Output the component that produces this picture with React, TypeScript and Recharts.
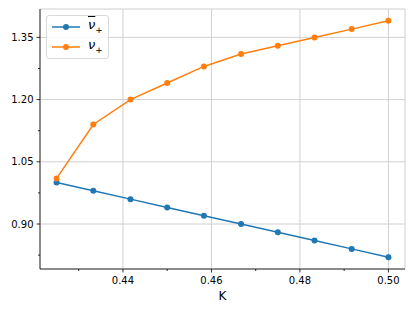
import React from "react";
import {
  LineChart,
  Line,
  XAxis,
  YAxis,
  CartesianGrid,
  Legend,
} from "recharts";

const kValues = [0.425, 0.4333, 0.4417, 0.45, 0.4583, 0.4667, 0.475, 0.4833, 0.4917, 0.5];
const nuBar = [1.0, 0.98, 0.96, 0.94, 0.92, 0.9, 0.88, 0.86, 0.84, 0.82];
const nu = [1.01, 1.14, 1.2, 1.24, 1.28, 1.31, 1.33, 1.35, 1.37, 1.39];

const xMajor = [0.44, 0.46, 0.48, 0.5];
const xMinor = [0.43, 0.45, 0.47, 0.49];
const yMajor = [0.9, 1.05, 1.2, 1.35];
const yMinor = [0.825, 0.975, 1.125, 1.275];

const xDomain = [0.42125, 0.50375];
const yDomain = [0.7915, 1.4185];

const BLUE = "#1f77b4";
const ORANGE = "#ff7f0e";
const FONT = "DejaVu Sans";

const data = kValues.map((k, i) => ({ k, nuBar: nuBar[i], nu: nu[i] }));

const isMajor = (list: number[], v: number) => list.some((m) => Math.abs(m - v) < 1e-9);

const XTick = (props: any) => {
  const { x, y, payload } = props;
  const major = isMajor(xMajor, payload.value);
  return (
    <g>
      <line x1={x} x2={x} y1={y} y2={y + (major ? 3.5 : 2)} stroke="#000" strokeWidth={0.8} />
      {major && (
        <text x={x} y={y + 14.5} textAnchor="middle" fontSize={10} fill="#000" fontFamily={FONT}>
          {payload.value.toFixed(2)}
        </text>
      )}
    </g>
  );
};

const YTick = (props: any) => {
  const { x, y, payload } = props;
  const major = isMajor(yMajor, payload.value);
  return (
    <g>
      <line x1={x - (major ? 3.5 : 2)} x2={x} y1={y} y2={y} stroke="#000" strokeWidth={0.8} />
      {major && (
        <text x={x - 6.5} y={y + 3.6} textAnchor="end" fontSize={10} fill="#000" fontFamily={FONT}>
          {payload.value.toFixed(2)}
        </text>
      )}
    </g>
  );
};

const LegendRow = ({ color, bar }: { color: string; bar: boolean }) => (
  <div style={{ display: "flex", alignItems: "center", height: 20 }}>
    <svg width={36} height={20} style={{ display: "block" }}>
      <line x1={5} x2={33} y1={10} y2={10} stroke={color} strokeWidth={1.5} />
      <circle cx={19} cy={10} r={3} fill={color} />
    </svg>
    <span style={{ marginLeft: 5, fontSize: 13, fontStyle: "italic", fontFamily: FONT, lineHeight: "20px" }}>
      <span style={{ textDecoration: bar ? "overline" : "none" }}>ν</span>
      <sub style={{ fontSize: 9, fontStyle: "normal" }}>+</sub>
    </span>
  </div>
);

const LegendBox = () => (
  <div
    style={{
      boxSizing: "border-box",
      width: 63,
      height: 44,
      paddingTop: 1,
      border: "1px solid #d9d9d9",
      borderRadius: 3,
      background: "rgba(255,255,255,0.8)",
    }}
  >
    <LegendRow color={BLUE} bar={true} />
    <LegendRow color={ORANGE} bar={false} />
  </div>
);

export default function App() {
  return (
    <div style={{ position: "absolute", left: 0, top: 0, background: "#fff" }}>
      <LineChart
        width={415}
        height={311}
        data={data}
        margin={{ top: 9, right: 10, left: 0, bottom: 0 }}
        style={{ fontFamily: FONT }}
      >
        <XAxis
          xAxisId="main"
          dataKey="k"
          type="number"
          domain={xDomain}
          ticks={[...xMajor, ...xMinor]}
          allowDataOverflow
          interval={0}
          height={42}
          tickSize={0}
          tickMargin={0}
          tickLine={false}
          tick={<XTick />}
          axisLine={{ stroke: "#000", strokeWidth: 0.8 }}
          label={{ value: "K", position: "insideBottom", offset: 11, fontSize: 12, fill: "#000" }}
        />
        <YAxis
          yAxisId="main"
          type="number"
          domain={yDomain}
          ticks={[...yMajor, ...yMinor]}
          allowDataOverflow
          interval={0}
          width={40}
          tickSize={0}
          tickMargin={0}
          tickLine={false}
          tick={<YTick />}
          axisLine={{ stroke: "#000", strokeWidth: 0.8 }}
        />
        <XAxis
          xAxisId="grid"
          dataKey="k"
          type="number"
          domain={xDomain}
          ticks={xMajor}
          allowDataOverflow
          height={0}
          hide
        />
        <YAxis yAxisId="grid" type="number" domain={yDomain} ticks={yMajor} allowDataOverflow width={0} hide />
        <CartesianGrid xAxisId="grid" yAxisId="grid" stroke="#d0d0d0" strokeWidth={1} />
        <XAxis
          xAxisId="top"
          orientation="top"
          type="number"
          domain={xDomain}
          height={0}
          tick={false}
          tickLine={false}
          axisLine={{ stroke: "#000", strokeWidth: 0.8 }}
        />
        <YAxis
          yAxisId="right"
          orientation="right"
          type="number"
          domain={yDomain}
          width={0}
          tick={false}
          tickLine={false}
          axisLine={{ stroke: "#000", strokeWidth: 0.8 }}
        />
        <Line
          xAxisId="main"
          yAxisId="main"
          type="linear"
          dataKey="nuBar"
          stroke={BLUE}
          strokeWidth={1.5}
          dot={{ r: 3, fill: BLUE, stroke: BLUE, strokeWidth: 0 }}
          isAnimationActive={false}
        />
        <Line
          xAxisId="main"
          yAxisId="main"
          type="linear"
          dataKey="nu"
          stroke={ORANGE}
          strokeWidth={1.5}
          dot={{ r: 3, fill: ORANGE, stroke: ORANGE, strokeWidth: 0 }}
          isAnimationActive={false}
        />
        <Legend
          layout="vertical"
          align="center"
          verticalAlign="middle"
          content={<LegendBox />}
          wrapperStyle={{ left: 46, top: 15, width: 63, height: 44 }}
        />
      </LineChart>
    </div>
  );
}
